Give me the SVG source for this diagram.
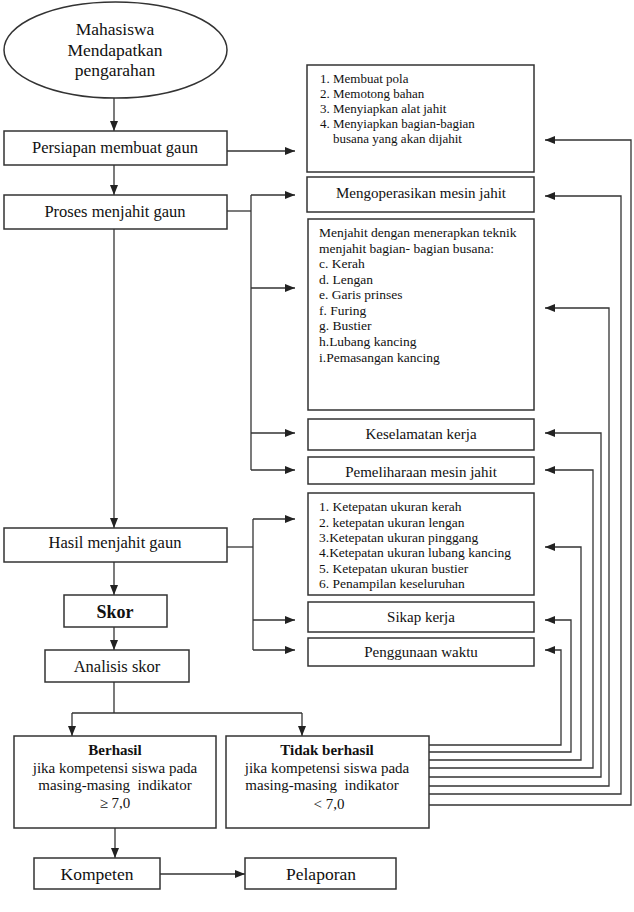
<svg xmlns="http://www.w3.org/2000/svg" width="634" height="912" viewBox="0 0 634 912">
<defs>
<marker id="arr" markerUnits="userSpaceOnUse" markerWidth="10" markerHeight="8" refX="10" refY="4" orient="auto">
<path d="M0,0 L10,4 L0,8 z" fill="#222"/>
</marker>
<style>
.box{fill:#fff;stroke:#333;stroke-width:1.5}
.ln{fill:none;stroke:#333;stroke-width:1.3}
.ar{fill:none;stroke:#333;stroke-width:1.3;marker-end:url(#arr)}
text{font-family:"Liberation Serif","Times New Roman",serif;fill:#111;white-space:pre}
.big{font-size:16.5px;text-anchor:middle}
.lab{font-size:15px;text-anchor:middle}
.sm{font-size:13px}
.md{font-size:13.5px}
.b{font-weight:bold}
</style>
</defs>
<rect width="634" height="912" fill="#fff"/>

<g id="connectors">
<path class="ar" d="M114,98 V131"/>
<path class="ar" d="M227,151 H295"/>
<path class="ar" d="M114,165 V195"/>
<path class="ln" d="M227,211 H251"/>
<path class="ar" d="M251,195 H295"/>
<path class="ln" d="M251,195 V470"/>
<path class="ar" d="M251,288 H295"/>
<path class="ar" d="M251,433 H295"/>
<path class="ar" d="M251,470 H295"/>
<path class="ar" d="M114,229 V528"/>
<path class="ln" d="M227,547 H253"/>
<path class="ln" d="M253,519 V650"/>
<path class="ar" d="M253,519 H295"/>
<path class="ar" d="M253,620 H295"/>
<path class="ar" d="M253,650 H295"/>
<path class="ar" d="M114,562 V595"/>
<path class="ar" d="M114,627 V650"/>
<path class="ln" d="M114,682 V713 M72,713 H302"/>
<path class="ar" d="M72,713 V736"/>
<path class="ar" d="M302,713 V736"/>
<path class="ar" d="M115,828 V858"/>
<path class="ar" d="M160,874 H245"/>
<path class="ar" d="M429,805 H631 V140 H545"/>
<path class="ar" d="M429,794 H621 V196 H545"/>
<path class="ar" d="M429,786 H609 V308 H545"/>
<path class="ar" d="M429,777 H601 V433 H545"/>
<path class="ar" d="M429,768 H593 V470 H545"/>
<path class="ar" d="M429,760 H581 V547 H545"/>
<path class="ar" d="M429,752 H571 V620 H545"/>
<path class="ar" d="M429,745 H561 V650 H545"/>
</g>

<g id="start">
<ellipse class="box" cx="115.5" cy="50" rx="111.5" ry="48"/>
<text x="115" y="35" style="font-size:17.5px;text-anchor:middle">Mahasiswa</text>
<text x="115" y="56" style="font-size:17.5px;text-anchor:middle">Mendapatkan</text>
<text x="115" y="76" style="font-size:17.5px;text-anchor:middle">pengarahan</text>
</g>

<g id="persiapan">
<rect class="box" x="4" y="131" width="223" height="34"/>
<text class="big" x="115" y="153">Persiapan membuat gaun</text>
</g>

<g id="proses">
<rect class="box" x="4" y="195" width="223" height="34"/>
<text class="big" x="115" y="217">Proses menjahit gaun</text>
</g>

<g id="hasil">
<rect class="box" x="4" y="528" width="223" height="34"/>
<text class="big" x="115" y="548">Hasil menjahit gaun</text>
</g>

<g id="skor">
<rect class="box" x="64" y="595" width="103" height="32"/>
<text x="115" y="618" class="b" style="font-size:18px;text-anchor:middle">Skor</text>
</g>

<g id="analisis">
<rect class="box" x="45" y="650" width="144" height="32"/>
<text class="big" x="117" y="672">Analisis skor</text>
</g>

<g id="langkah-persiapan">
<rect class="box" x="307" y="65" width="227" height="107"/>
<text class="sm" x="320" y="83">1. Membuat pola</text>
<text class="sm" x="320" y="98">2. Memotong bahan</text>
<text class="sm" x="320" y="113">3. Menyiapkan alat jahit</text>
<text class="sm" x="320" y="128">4. Menyiapkan bagian-bagian</text>
<text class="sm" x="333" y="143">busana yang akan dijahit</text>
</g>

<g id="mengoperasikan">
<rect class="box" x="307" y="177" width="227" height="35"/>
<text class="lab" x="421" y="198">Mengoperasikan mesin jahit</text>
</g>

<g id="menjahit">
<rect class="box" x="308" y="219" width="226" height="191"/>
<text class="md" x="319" y="237">Menjahit dengan menerapkan teknik</text>
<text class="md" x="319" y="253">menjahit bagian- bagian busana:</text>
<text class="md" x="319" y="268">c. Kerah</text>
<text class="md" x="319" y="284">d. Lengan</text>
<text class="md" x="319" y="299">e. Garis prinses</text>
<text class="md" x="319" y="315">f. Furing</text>
<text class="md" x="319" y="330">g. Bustier</text>
<text class="md" x="319" y="346">h.Lubang kancing</text>
<text class="md" x="319" y="362">i.Pemasangan kancing</text>
</g>

<g id="keselamatan">
<rect class="box" x="308" y="419" width="226" height="31"/>
<text class="lab" x="421" y="439">Keselamatan kerja</text>
</g>

<g id="pemeliharaan">
<rect class="box" x="308" y="457" width="226" height="27"/>
<text class="lab" x="421" y="477">Pemeliharaan mesin jahit</text>
</g>

<g id="ketepatan">
<rect class="box" x="308" y="493" width="226" height="102"/>
<text class="md" x="319" y="511">1. Ketepatan ukuran kerah</text>
<text class="md" x="319" y="527">2. ketepatan ukuran lengan</text>
<text class="md" x="319" y="542">3.Ketepatan ukuran pinggang</text>
<text class="md" x="319" y="557">4.Ketepatan ukuran lubang kancing</text>
<text class="md" x="319" y="573">5. Ketepatan ukuran bustier</text>
<text class="md" x="319" y="588">6. Penampilan keseluruhan</text>
</g>

<g id="sikap">
<rect class="box" x="308" y="602" width="226" height="30"/>
<text class="lab" x="421" y="622">Sikap kerja</text>
</g>

<g id="penggunaan">
<rect class="box" x="308" y="638" width="226" height="28"/>
<text class="lab" x="421" y="657">Penggunaan waktu</text>
</g>

<g id="berhasil">
<rect class="box" x="14" y="736" width="202" height="92"/>
<text class="lab b" x="115" y="755">Berhasil</text>
<text class="lab" x="115" y="773">jika kompetensi siswa pada</text>
<text class="lab" x="115" y="790">masing-masing  indikator</text>
<text class="lab" x="115" y="808">≥ 7,0</text>
</g>

<g id="tidak-berhasil">
<rect class="box" x="226" y="736" width="203" height="92"/>
<text class="lab b" x="327" y="755">Tidak berhasil</text>
<text class="lab" x="327" y="773">jika kompetensi siswa pada</text>
<text class="lab" x="322" y="790">masing-masing  indikator</text>
<text class="lab" x="329" y="809">&lt; 7,0</text>
</g>

<g id="kompeten">
<rect class="box" x="34" y="858" width="126" height="31"/>
<text x="97" y="880" style="font-size:17.5px;text-anchor:middle">Kompeten</text>
</g>

<g id="pelaporan">
<rect class="box" x="245" y="858" width="151" height="31"/>
<text x="321" y="880" style="font-size:17.5px;text-anchor:middle">Pelaporan</text>
</g>
</svg>
